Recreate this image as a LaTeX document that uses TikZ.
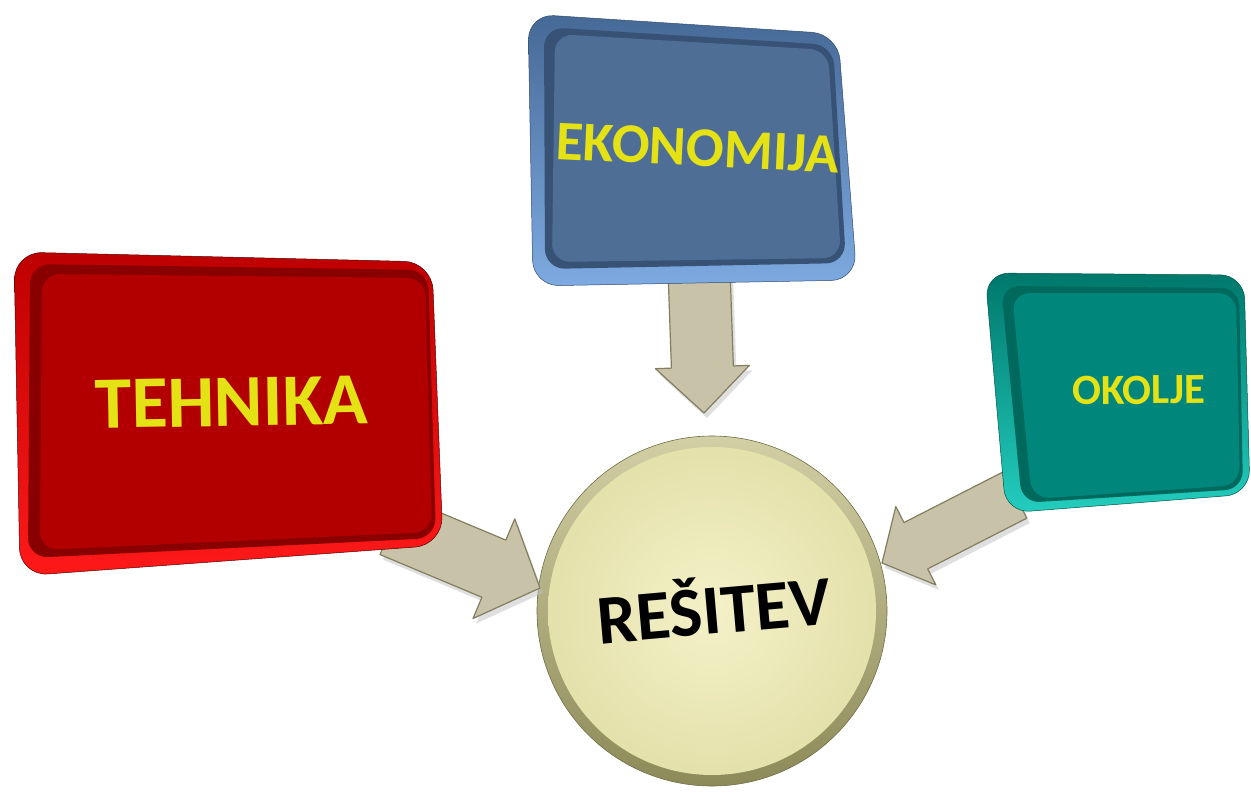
\documentclass[tikz,border=0pt]{standalone}
\usepackage{fontspec}
\setmainfont{Carlito}
\usetikzlibrary{calc}
\definecolor{redface}{RGB}{178,0,0}
\definecolor{redrim}{RGB}{255,25,25}
\definecolor{redtop}{RGB}{190,0,0}
\definecolor{reddark}{RGB}{120,0,0}
\definecolor{blueface}{RGB}{78,110,150}
\definecolor{bluerim}{RGB}{125,170,225}
\definecolor{bluetop}{RGB}{70,105,150}
\definecolor{bluedark}{RGB}{50,75,110}
\definecolor{greenface}{RGB}{0,134,122}
\definecolor{greenrim}{RGB}{35,205,190}
\definecolor{greentop}{RGB}{0,120,108}
\definecolor{greendark}{RGB}{0,85,75}
\definecolor{arrowfill}{RGB}{200,195,168}
\definecolor{arrowedge}{RGB}{130,126,95}
\definecolor{discface}{RGB}{236,232,178}
\definecolor{disclight}{RGB}{244,241,200}
\definecolor{discrimtop}{RGB}{210,207,165}
\definecolor{discrimbot}{RGB}{140,138,88}
\definecolor{labelyellow}{RGB}{228,226,20}
\newcommand\blockarrow[5]{%
  \coordinate (ba-b) at ($(#2)!#5!(#1)$);
  \path[arrowbody] ($(#1)!#3!90:(#2)$) -- ($(ba-b)!#3!90:(#2)$) -- ($(ba-b)!#4!90:(#2)$) -- (#2)
     -- ($(ba-b)!#4!-90:(#2)$) -- ($(ba-b)!#3!-90:(#2)$) -- ($(#1)!#3!-90:(#2)$) -- cycle;
}
\begin{document}
\begin{tikzpicture}[x=1pt,y=-1pt,
  arrowbody/.style={fill=arrowfill,draw=arrowedge,line width=1.2pt,line join=round},
  lbl/.style={inner sep=0pt,anchor=base,text=labelyellow,font=\bfseries},
  boxface/.style={rounded corners=18pt}]
\useasboundingbox (0,0) rectangle (1251,793);

% coordinates for arrows
\coordinate (tehS) at (392,526);
\coordinate (tehT) at (540,588);
\coordinate (ekoS) at (699,270);
\coordinate (ekoT) at (704,413);
\coordinate (okoS) at (1015,495);
\coordinate (okoT) at (882,563);
\coordinate (disc) at (712,611);

% disc
\shade[top color=discrimtop,bottom color=discrimbot,draw=discrimbot!80!black,line width=0.6pt] (disc) circle[radius=175pt];
\shade[inner color=disclight,outer color=discface!92!discrimbot] (disc) circle[radius=164pt];
\node[inner sep=0pt,anchor=base,font=\bfseries\fontsize{70}{70}\selectfont,rotate=5] (resitev) at (716,634) {REŠITEV};

% arrows (shadow + body)
\begin{scope}[transform canvas={shift={(3pt,-5pt)}},arrowbody/.style={fill=black!25,draw=none,opacity=0.5}]
\blockarrow{tehS}{tehT}{31pt}{54pt}{50pt}
\blockarrow{ekoS}{ekoT}{31pt}{47pt}{46pt}
\blockarrow{okoS}{okoT}{26pt}{44pt}{38pt}
\end{scope}
\blockarrow{tehS}{tehT}{31pt}{54pt}{50pt}
\blockarrow{ekoS}{ekoT}{31pt}{47pt}{46pt}
\blockarrow{okoS}{okoT}{26pt}{44pt}{38pt}

% red box
\shade[rounded corners=28pt,top color=redtop,bottom color=redrim,draw=reddark!70!black,line width=0.5pt] (14,252) -- (432,262) -- (443,545) -- (20,576) -- cycle;
\fill[rounded corners=20pt,reddark!70!redface] (30,264) -- (428,270) -- (436,538) -- (28,558) -- cycle;
\fill[boxface,redface] (42,274) -- (425,278) -- (432,532) -- (40,550) -- cycle;
\node[lbl,font=\bfseries\fontsize{74}{74}\selectfont,rotate=1] (tehnika) at (232,426) {TEHNIKA};

% blue box
\shade[rounded corners=26pt,top color=bluetop,bottom color=bluerim,draw=bluedark,line width=0.5pt] (528,14) -- (838,34) -- (857,280) -- (533,286) -- cycle;
\fill[rounded corners=20pt,bluedark!80!blueface] (544,27) -- (833,45) -- (846,263) -- (545,269) -- cycle;
\fill[boxface,blueface] (555,34) -- (828,50) -- (841,258) -- (552,262) -- cycle;
\node[lbl,font=\bfseries\fontsize{56}{56}\selectfont,rotate=-2.7] (ekonomija) at (697,166) {EKONOMIJA};

% green box
\shade[rounded corners=24pt,top color=greentop,bottom color=greenrim,draw=greendark,line width=0.5pt] (985,273) -- (1244,275) -- (1250,494) -- (1006,513) -- cycle;
\fill[rounded corners=18pt,greendark!60!greenface] (1001,286) -- (1239,288) -- (1243,489) -- (1022,503) -- cycle;
\fill[boxface,greenface] (1012,293) -- (1236,293) -- (1240,485) -- (1032,499) -- cycle;
\node[lbl,font=\bfseries\fontsize{43}{43}\selectfont,rotate=0.5] (okolje) at (1139,404) {OKOLJE};
\end{tikzpicture}
\end{document}
